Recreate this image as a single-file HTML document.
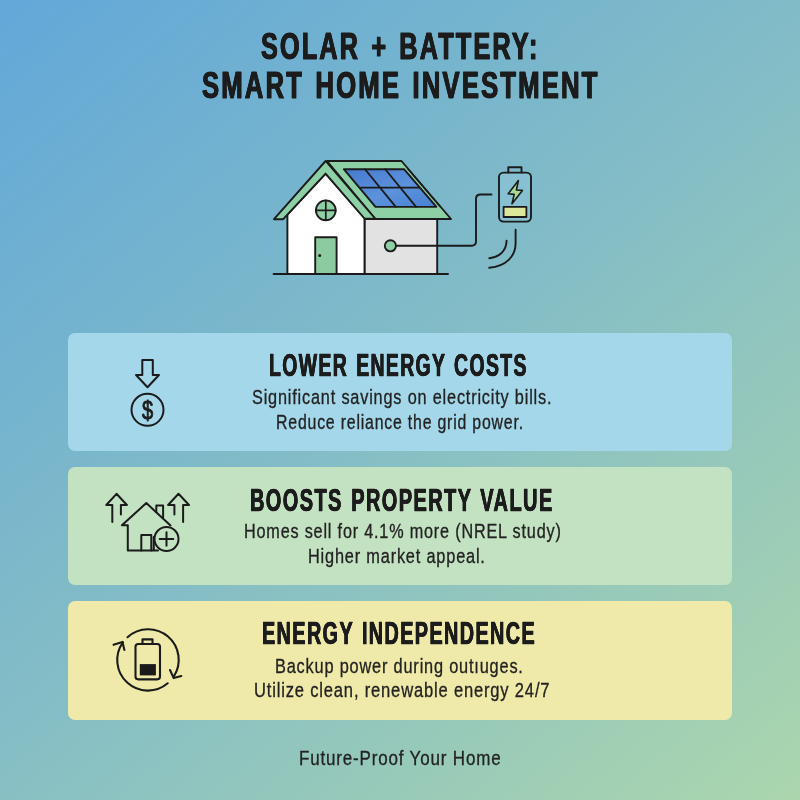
<!DOCTYPE html>
<html lang="en">
<head>
<meta charset="utf-8">
<title>Solar + Battery: Smart Home Investment</title>
<style>
html,body{margin:0;padding:0;}
body{width:800px;height:800px;overflow:hidden;position:relative;
  background:linear-gradient(140deg,#62A8D9 0%,#84BDC6 50%,#ABD6AD 100%);
  font-family:"Liberation Sans",sans-serif;color:#1c1c1c;}
header{position:absolute;left:0;top:0;width:800px;height:120px;}
h1,h2,p{margin:0;padding:0;font-size:inherit;}
h1{font-weight:700;}
figure{margin:0;}
.card{position:absolute;left:67.5px;width:664.7px;height:118px;border-radius:7px;}
.c1{top:333px;background:#A4D7E9;}
.c2{top:466.5px;background:#C3E2C1;height:118.5px;}
.c3{top:600.5px;background:#EFEAA9;height:119px;}
footer{position:absolute;left:0;top:730px;width:800px;height:70px;}
.t{position:absolute;white-space:nowrap;transform-origin:0 50%;display:block;}
.title{font-weight:700;-webkit-text-stroke:1.0px #1c1c1c;word-spacing:3px;text-shadow:0.55px 0 0 #1c1c1c,-0.55px 0 0 #1c1c1c;}
.h{font-weight:700;-webkit-text-stroke:0.7px #1c1c1c;word-spacing:2px;text-shadow:0.35px 0 0 #1c1c1c,-0.35px 0 0 #1c1c1c;}
.b,.f{font-weight:400;color:#222;-webkit-text-stroke:0.32px #222;}
svg{position:absolute;overflow:visible;}
svg.icon{left:0;top:0;}
</style>
</head>
<body>
<header>
 <h1>
  <span class="t title" style="left:261.00px;top:28.09px;font-size:37.7px;line-height:37.7px;letter-spacing:3.2px;transform:scaleX(0.6702)">SOLAR + BATTERY:</span>
  <span class="t title" style="left:202.00px;top:67.39px;font-size:37.7px;line-height:37.7px;letter-spacing:3.2px;transform:scaleX(0.6807)">SMART HOME INVESTMENT</span>
 </h1>
</header>
<figure>
<svg class="hero" width="320" height="150" viewBox="250 145 320 150" style="left:250px;top:145px" fill="none" stroke="#1b1b1b" stroke-width="1.9" stroke-linecap="round" stroke-linejoin="round">
<defs><linearGradient id="pv" x1="0" y1="0" x2="1" y2="1"><stop offset="0" stop-color="#4579CF"/><stop offset="0.55" stop-color="#5C93DB"/><stop offset="1" stop-color="#4A80D3"/></linearGradient></defs>
<g id="house">
  <rect x="364.5" y="219" width="72.7" height="55" fill="#E2E2E2"/>
  <polygon points="287.4,274 287.4,214.6 325.6,173.6 364.5,218 364.5,274" fill="#FFFFFF"/>
  <polygon points="327,161 401.5,161 451,219 375.5,219" fill="#8ED0A6"/>
  <polygon points="274,219.2 325.6,161 375.5,219 364.5,218.5 325.6,173.6 283.2,219.2" fill="#8ED0A6"/>
  <polygon points="343.8,169.2 404,169.2 436.4,206.9 375.5,206.9" fill="url(#pv)"/>
  <path d="M360.9 187.7H419M365 169.2L395.8 206.9M385.2 169.2L416.1 206.9" stroke-width="1.8"/>
  <path d="M407.5 168.5L440 206.5" stroke-width="1.4"/>
  <circle cx="325.8" cy="210.3" r="9.9" fill="#8ED0A6"/>
  <path d="M325.8 200.4V220.2M315.9 210.3H335.7" stroke-width="1.7"/>
  <rect x="315.2" y="237.2" width="21.4" height="36.8" fill="#8CCB9F"/>
  <circle cx="319.7" cy="255.6" r="1.5" fill="#1b1b1b" stroke="none"/>
  <path d="M273.6 274H448"/>
  <circle cx="390.4" cy="245.8" r="5.6" fill="#8ED0A6"/>
  <path d="M396 245.8H471.5Q476 245.8 476 241.3V199Q476 194.5 480.5 194.5H491.5"/>
</g>
<g id="battery">
  <rect x="499" y="172.6" width="32" height="49" rx="4.5" fill="#87C0D3"/>
  <path d="M508.3 172.6V167.3H521.5V172.6"/>
  <polygon points="518.4,180.6 508.2,193.8 514.2,194.4 512,203.8 522.4,190.4 516.4,190" fill="#A9DB92" stroke-width="1.6"/>
  <rect x="503.6" y="206.8" width="22.8" height="10.2" fill="#DCE79B" stroke-width="1.8"/>
  <path d="M515.6 229.8V243C515.6 256.5 506 266.3 489.3 267.8"/>
  <path d="M506.6 240.6C506.4 250.5 500 257 489.3 258.2"/>
</g>
</svg>
</figure>
<main>
<section class="card c1">
  <svg class="icon" width="160" height="120" viewBox="67 333 160 120" style="left:-0.5px;top:0px" fill="none" stroke="#1b1b1b" stroke-width="1.9" stroke-linecap="round" stroke-linejoin="round">
<g id="icon-cost" stroke-width="2">
  <path d="M142.3 360H152.8V375H159L147.5 387.3L136 375H142.3Z"/>
  <circle cx="147.5" cy="409.8" r="16"/>
  <text transform="translate(147.6 418.6) scale(0.76 1)" x="0" y="0" text-anchor="middle" font-family="'Liberation Sans',sans-serif" font-size="26.5" fill="#1b1b1b" stroke="#1b1b1b" stroke-width="0.9">$</text>
</g>
  </svg>
  <h2 class="t h" style="left:201.50px;top:17.38px;font-size:30.5px;line-height:30.5px;letter-spacing:2.2px;transform:scaleX(0.6353)">LOWER ENERGY COSTS</h2>
  <p class="t b" style="left:184.70px;top:54.49px;font-size:20.1px;line-height:20.1px;letter-spacing:1.0px;transform:scaleX(0.8106)">Significant savings on electricity bills.</p>
  <p class="t b" style="left:208.30px;top:79.19px;font-size:20.1px;line-height:20.1px;letter-spacing:1.0px;transform:scaleX(0.7904)">Reduce reliance the grid power.</p>
</section>
<section class="card c2">
  <svg class="icon" width="160" height="120" viewBox="67 466 160 120" style="left:-0.5px;top:-0.5px" fill="none" stroke="#1b1b1b" stroke-width="1.9" stroke-linecap="round" stroke-linejoin="round">
<g id="icon-value" stroke-width="2">
  <path d="M112.3 521.9V505H106.3L116.5 493.8L126.9 505H120.9V514.4"/>
  <path d="M174.4 514.4V505H168.1L178.5 493.8L189 505H183.1V521.9"/>
  <path d="M127.8 525.2H121.9L146.3 503.1L170.5 525.4M127.8 525.2V550.6H158"/>
  <path d="M156.3 511.9V505.6H163.1V517.8"/>
  <path d="M141.3 550.6V535H151.3V550.6M153.8 537V550"/>
  <circle cx="166.5" cy="539" r="12" fill="#C3E2C1"/>
  <path d="M166.5 532.2V545.8M159.7 539H173.3"/>
</g>
  </svg>
  <h2 class="t h" style="left:182.90px;top:18.28px;font-size:30.5px;line-height:30.5px;letter-spacing:2.2px;transform:scaleX(0.6540)">BOOSTS PROPERTY VALUE</h2>
  <p class="t b" style="left:176.40px;top:54.79px;font-size:20.1px;line-height:20.1px;letter-spacing:1.0px;transform:scaleX(0.8069)">Homes sell for 4.1% more (NREL study)</p>
  <p class="t b" style="left:240.70px;top:79.79px;font-size:20.1px;line-height:20.1px;letter-spacing:1.0px;transform:scaleX(0.8126)">Higher market appeal.</p>
</section>
<section class="card c3">
  <svg class="icon" width="160" height="120" viewBox="67 600 160 120" style="left:-0.5px;top:-0.5px" fill="none" stroke="#1b1b1b" stroke-width="1.9" stroke-linecap="round" stroke-linejoin="round">
<g id="icon-indep" stroke-width="2.1">
  <path d="M127.5 637.2A30.6 30.6 0 0 1 173.7 676.6"/>
  <path d="M170 670L173.7 678.1L181.3 676"/>
  <path d="M167.7 683.3A30.6 30.6 0 0 1 122.9 642.3"/>
  <path d="M113.5 644.8L122.5 641.9L124.4 650"/>
  <rect x="135.5" y="644" width="24.5" height="35.4" rx="2.8"/>
  <path d="M142.5 644V639.4H152.5V644"/>
  <rect x="139.8" y="664.1" width="16.1" height="11.3" fill="#1b1b1b" stroke="none"/>
</g>
  </svg>
  <h2 class="t h" style="left:194.10px;top:17.98px;font-size:30.5px;line-height:30.5px;letter-spacing:2.2px;transform:scaleX(0.6480)">ENERGY INDEPENDENCE</h2>
  <p class="t b" style="left:207.50px;top:55.19px;font-size:20.1px;line-height:20.1px;letter-spacing:1.0px;transform:scaleX(0.8127)">Backup power during outıuges.</p>
  <p class="t b" style="left:186.90px;top:79.29px;font-size:20.1px;line-height:20.1px;letter-spacing:1.0px;transform:scaleX(0.8233)">Utilize clean, renewable energy 24/7</p>
</section>
</main>
<footer>
  <p class="t f" style="left:299.40px;top:18.46px;font-size:20.6px;line-height:20.6px;letter-spacing:1.0px;transform:scaleX(0.8255)">Future-Proof Your Home</p>
</footer>
</body>
</html>
